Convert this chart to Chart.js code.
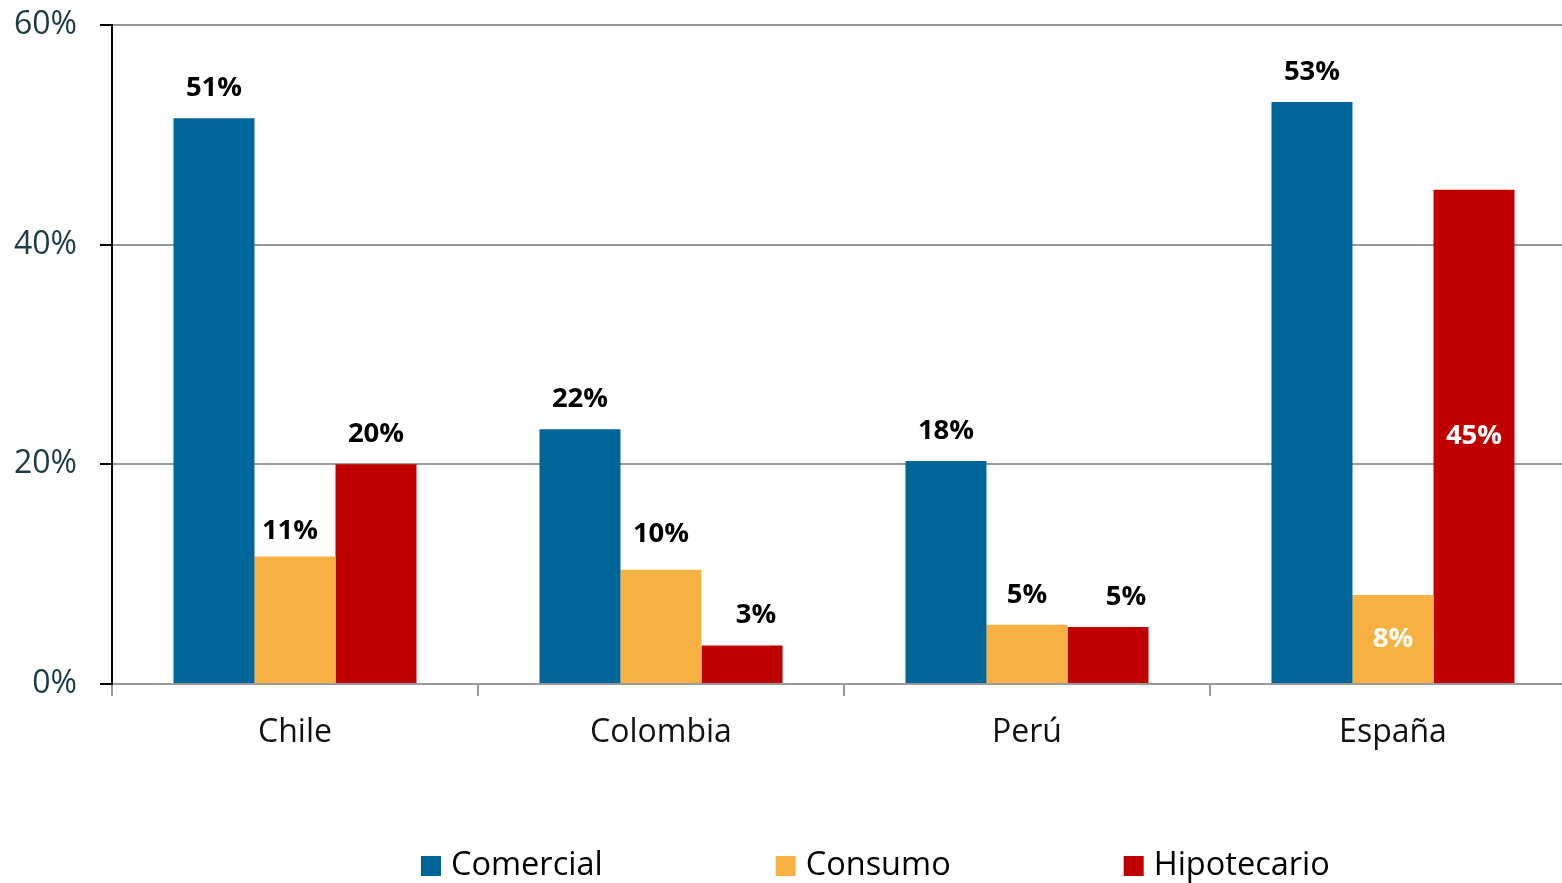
<!DOCTYPE html>
<html>
<head>
<meta charset="utf-8">
<script src="https://cdn.jsdelivr.net/npm/chart.js@4"></script>
<style>
  html, body { margin: 0; padding: 0; background: #ffffff; overflow: hidden; }
  #wrap { width: 1562px; height: 883px; position: relative; overflow: hidden; }
  #c { position: absolute; left: 0; top: 0; }
</style>
</head>
<body>
<div id="wrap"><canvas id="c" width="1576" height="883"></canvas></div>
<script>
// ---- data ----
const categories = ['Chile', 'Colombia', 'Perú', 'España'];
const seriesNames = ['Comercial', 'Consumo', 'Hipotecario'];
const comercial = [51.5, 23.2, 20.3, 53.0];
const consumo = [11.6, 10.4, 5.4, 8.1];
const hipotecario = [20.0, 3.5, 5.2, 45.0];
const comercialLabels = ['51%', '22%', '18%', '53%'];
const consumoLabels = ['11%', '10%', '5%', '8%'];
const hipotecarioLabels = ['20%', '3%', '5%', '45%'];
const yTicks = [0, 20, 40, 60];

const FONT = "'Open Sans', 'DejaVu Sans', sans-serif";

const barLabelPlugin = {
  id: 'barLabels',
  afterDatasetsDraw(chart, args, opts) {
    const ctx = chart.ctx;
    ctx.save();
    ctx.font = 'bold 27.5px ' + FONT;
    ctx.textAlign = 'center';
    ctx.textBaseline = 'middle';
    chart.data.datasets.forEach((ds, d) => {
      const meta = chart.getDatasetMeta(d);
      meta.data.forEach((bar, i) => {
        const text = ds.labelTexts[i];
        const key = d + ',' + i;
        const nudge = opts.nudges[key] || [0, 0];
        const x = bar.x + nudge[0];
        let y;
        if (opts.inside.includes(key)) {
          ctx.fillStyle = '#ffffff';
          y = (bar.y + bar.base) / 2 + nudge[1];
        } else {
          ctx.fillStyle = '#000000';
          y = bar.y - 30 + nudge[1];
        }
        ctx.fillText(text, x, y);
      });
    });
    ctx.restore();
  }
};

const legendPlugin = {
  id: 'customLegend',
  afterDraw(chart, args, opts) {
    const ctx = chart.ctx;
    ctx.save();
    ctx.font = '32.5px ' + FONT;
    ctx.textBaseline = 'middle';
    ctx.textAlign = 'left';
    let x = opts.startX;
    const y = opts.y;
    chart.data.datasets.forEach((ds) => {
      ctx.fillStyle = ds.backgroundColor;
      ctx.fillRect(x, y - 10, 20, 20);
      ctx.fillStyle = '#000000';
      ctx.fillText(ds.label, x + 30, y);
      x += 30 + ctx.measureText(ds.label).width + opts.gap;
    });
    ctx.restore();
  }
};

new Chart(document.getElementById('c'), {
  type: 'bar',
  data: {
    labels: categories,
    datasets: [
      { label: seriesNames[0], data: comercial, labelTexts: comercialLabels, backgroundColor: '#006699' },
      { label: seriesNames[1], data: consumo, labelTexts: consumoLabels, backgroundColor: '#F6B142' },
      { label: seriesNames[2], data: hipotecario, labelTexts: hipotecarioLabels, backgroundColor: '#C00000' }
    ]
  },
  options: {
    responsive: false,
    animation: false,
    devicePixelRatio: 1,
    layout: { padding: { top: 25, right: 0, bottom: 0, left: 0 } },
    datasets: { bar: { categoryPercentage: 0.664, barPercentage: 1.0, borderWidth: 0 } },
    plugins: {
      legend: { display: false },
      tooltip: { enabled: false },
      barLabels: {
        inside: ['1,3', '2,3'],
        nudges: { '1,0': [-5, 5], '1,1': [0, -6], '2,1': [14, 0], '2,2': [18, 0] }
      },
      customLegend: { startX: 421, y: 866, gap: 173 }
    },
    scales: {
      x: {
        offset: true,
        grid: {
          display: true,
          offset: true,
          drawOnChartArea: false,
          drawTicks: true,
          tickLength: 12,
          tickColor: '#999999',
          lineWidth: 2
        },
        border: { display: true, color: '#999999', width: 2 },
        ticks: { color: '#111111', font: { family: FONT, size: 32 }, padding: 18 },
        afterFit: (s) => { s.height = 199; s.paddingLeft = 0; s.paddingRight = 0; }
      },
      y: {
        min: 0,
        max: 60,
        afterBuildTicks: (s) => { s.ticks = yTicks.map(v => ({ value: v })); },
        grid: {
          color: '#999999',
          lineWidth: 2,
          drawTicks: true,
          tickLength: 12,
          tickColor: '#000000'
        },
        border: { display: true, color: '#000000', width: 2 },
        ticks: {
          color: '#1b3a46',
          font: { family: FONT, size: 32 },
          padding: 23,
          callback: (v) => v + '%'
        },
        afterFit: (s) => { s.width = 112; s.paddingTop = 0; s.paddingBottom = 0; }
      }
    }
  },
  plugins: [barLabelPlugin, legendPlugin]
});
</script>
</body>
</html>
